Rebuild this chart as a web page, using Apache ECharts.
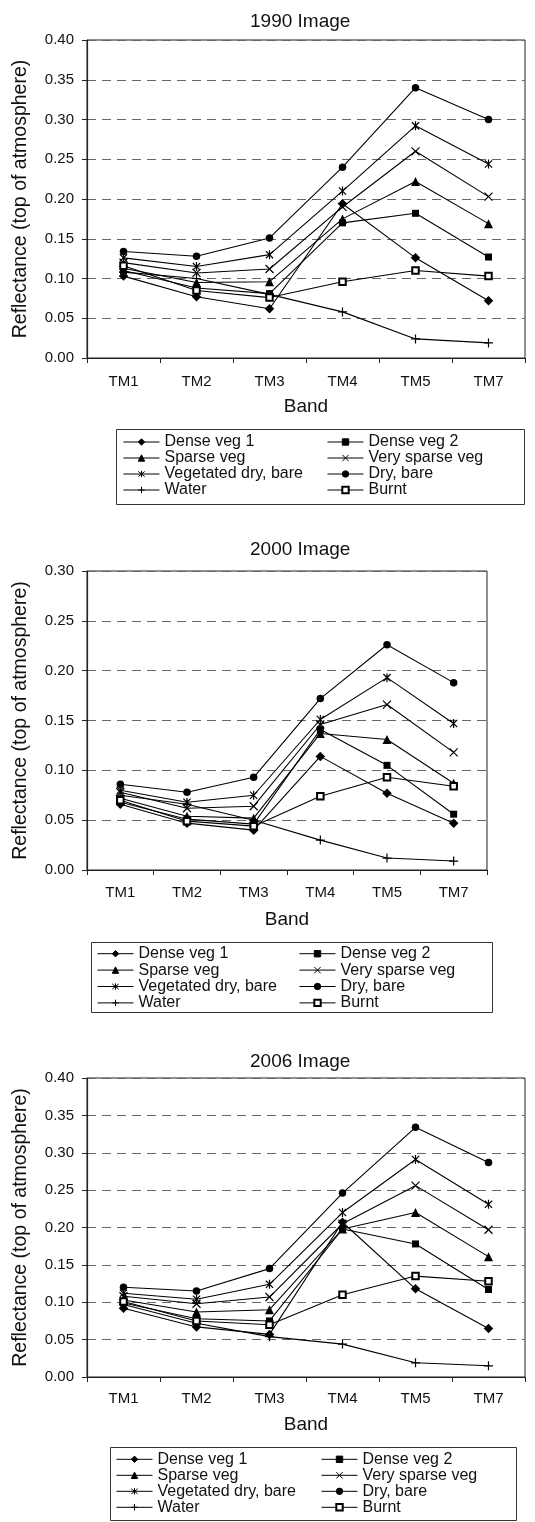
<!DOCTYPE html>
<html>
<head>
<meta charset="utf-8">
<title>Reflectance by band</title>
<script src="https://cdn.jsdelivr.net/npm/echarts@6.0.0/dist/echarts.min.js"></script>
<style>
    * { margin: 0; padding: 0; }
    html, body { width: 535px; height: 1522px; background: #fff; }
    #chart { width: 535px; height: 1522px; }
</style>
</head>
<body>
<div id="chart"></div>
<script>
var bands = ['TM1', 'TM2', 'TM3', 'TM4', 'TM5', 'TM7'];
var classNames = ['Dense veg 1', 'Dense veg 2', 'Sparse veg', 'Very sparse veg', 'Vegetated dry, bare', 'Dry, bare', 'Water', 'Burnt'];
var yTicks1990 = [0, 0.40, 0.05];
var yTicks2000 = [0, 0.30, 0.05];
var yTicks2006 = [0, 0.40, 0.05];

// 1990 image
var denseVeg1_1990   = [0.103, 0.077, 0.062, 0.194, 0.126, 0.072];
var denseVeg2_1990   = [0.110, 0.088, 0.081, 0.170, 0.182, 0.127];
var sparseVeg_1990   = [0.113, 0.095, 0.096, 0.175, 0.222, 0.169];
var vSparseVeg_1990  = [0.120, 0.107, 0.112, 0.190, 0.260, 0.203];
var vegDryBare_1990  = [0.126, 0.115, 0.130, 0.210, 0.292, 0.244];
var dryBare_1990     = [0.134, 0.128, 0.151, 0.240, 0.340, 0.300];
var water_1990       = [0.108, 0.100, 0.080, 0.058, 0.024, 0.019];
var burnt_1990       = [0.116, 0.085, 0.076, 0.096, 0.110, 0.103];

// 2000 image
var denseVeg1_2000   = [0.066, 0.047, 0.040, 0.114, 0.077, 0.047];
var denseVeg2_2000   = [0.068, 0.051, 0.046, 0.141, 0.105, 0.056];
var sparseVeg_2000   = [0.072, 0.054, 0.052, 0.137, 0.131, 0.087];
var vSparseVeg_2000  = [0.078, 0.062, 0.064, 0.146, 0.166, 0.118];
var vegDryBare_2000  = [0.080, 0.068, 0.075, 0.151, 0.193, 0.147];
var dryBare_2000     = [0.086, 0.078, 0.093, 0.172, 0.226, 0.188];
var water_2000       = [0.075, 0.066, 0.050, 0.030, 0.012, 0.009];
var burnt_2000       = [0.070, 0.049, 0.044, 0.074, 0.093, 0.084];

// 2006 image
var denseVeg1_2006   = [0.092, 0.067, 0.057, 0.207, 0.118, 0.065];
var denseVeg2_2006   = [0.099, 0.078, 0.075, 0.198, 0.178, 0.117];
var sparseVeg_2006   = [0.103, 0.087, 0.090, 0.198, 0.220, 0.161];
var vSparseVeg_2006  = [0.108, 0.098, 0.107, 0.205, 0.256, 0.197];
var vegDryBare_2006  = [0.112, 0.104, 0.124, 0.220, 0.291, 0.231];
var dryBare_2006     = [0.120, 0.115, 0.145, 0.246, 0.334, 0.287];
var water_2006       = [0.097, 0.072, 0.054, 0.044, 0.019, 0.015];
var burnt_2006       = [0.101, 0.075, 0.070, 0.110, 0.135, 0.128];

var font = "'Liberation Sans', Arial, sans-serif";

// marker for each class (same order as classNames)
var markers = [
    { symbol: 'diamond', size: 9.5, bw: 0 },
    { symbol: 'rect', size: 7, bw: 0 },
    { symbol: 'triangle', size: 9, bw: 0 },
    { symbol: 'path://M0,0L10,10M10,0L0,10', size: 8, bw: 1.2 },
    { symbol: 'path://M1,1L9,9M9,1L1,9M5,0L5,10', size: 9, bw: 1.2 },
    { symbol: 'circle', size: 7.5, bw: 0 },
    { symbol: 'path://M5,0L5,10M0,5L10,5', size: 9, bw: 1.2 },
    { symbol: 'emptyRect', size: 6.5, bw: 1 }
];

var panels = [
    { title: '1990 Image', titleTop: 12.5, ticks: yTicks1990,
      grid: { left: 87, top: 40, width: 438, height: 318 }, labelMargin: 16, nameGap: 39,
      rows: [denseVeg1_1990, denseVeg2_1990, sparseVeg_1990, vSparseVeg_1990, vegDryBare_1990, dryBare_1990, water_1990, burnt_1990],
      legendTop: 434, legLeft: [123, 327], lineH: 15.5, box: [116, 429, 408, 75] },
    { title: '2000 Image', titleTop: 540.5, ticks: yTicks2000,
      grid: { left: 87, top: 571, width: 400, height: 299 }, labelMargin: 15, nameGap: 40,
      rows: [denseVeg1_2000, denseVeg2_2000, sparseVeg_2000, vSparseVeg_2000, vegDryBare_2000, dryBare_2000, water_2000, burnt_2000],
      legendTop: 945.5, legLeft: [97, 299], lineH: 16.4, box: [91, 942, 401, 70] },
    { title: '2006 Image', titleTop: 1052.5, ticks: yTicks2006,
      grid: { left: 87, top: 1078, width: 438, height: 299 }, labelMargin: 14, nameGap: 38,
      rows: [denseVeg1_2006, denseVeg2_2006, sparseVeg_2006, vSparseVeg_2006, vegDryBare_2006, dryBare_2006, water_2006, burnt_2006],
      legendTop: 1451.3, legLeft: [116, 321], lineH: 16, box: [110, 1447, 406, 73] }
];

var titles = [], grids = [], xAxes = [], yAxes = [], series = [], legends = [], graphics = [];

panels.forEach(function (p, i) {
    titles.push({
        text: p.title, left: 250, top: p.titleTop, padding: 0,
        textStyle: { fontFamily: font, fontSize: 19, fontWeight: 'normal', color: '#111' }
    });
    grids.push({
        left: p.grid.left, top: p.grid.top, width: p.grid.width, height: p.grid.height,
        show: true, borderColor: '#222', borderWidth: 1, backgroundColor: 'transparent',
        outerBoundsMode: 'none'
    });
    xAxes.push({
        type: 'category', gridIndex: i, data: bands, boundaryGap: true,
        name: 'Band', nameLocation: 'middle', nameGap: p.nameGap,
        nameTextStyle: { fontFamily: font, fontSize: 19, color: '#111' },
        axisLine: { lineStyle: { color: '#222', width: 1.2 } },
        axisTick: { show: true, length: 5, alignWithLabel: false, lineStyle: { color: '#222' } },
        axisLabel: { fontFamily: font, fontSize: 15, color: '#111', margin: p.labelMargin, interval: 0 },
        splitLine: { show: false }
    });
    yAxes.push({
        type: 'value', gridIndex: i, min: p.ticks[0], max: p.ticks[1], interval: p.ticks[2],
        name: 'Reflectance (top of atmosphere)', nameLocation: 'middle', nameGap: 56,
        nameTextStyle: { fontFamily: font, fontSize: 19.5, color: '#111' },
        axisLine: { show: true, lineStyle: { color: '#222', width: 1.2 } },
        axisTick: { show: true, length: 5, lineStyle: { color: '#222' } },
        axisLabel: {
            fontFamily: font, fontSize: 15, color: '#111', margin: 13,
            formatter: function (v) { return v.toFixed(2); }
        },
        splitLine: { show: true, lineStyle: { color: '#666', type: [9, 6], width: 1 } }
    });
    p.rows.forEach(function (vals, k) {
        var m = markers[k];
        series.push({
            type: 'line', name: classNames[k], xAxisIndex: i, yAxisIndex: i,
            data: vals, symbol: m.symbol, symbolSize: m.size, symbolKeepAspect: true,
            showAllSymbol: true,
            lineStyle: { color: '#000', width: 1.1 },
            itemStyle: { color: '#000', borderColor: '#000', borderWidth: m.bw },
            emphasis: { disabled: true },
            z: 3
        });
    });
    var cols = [
        [classNames[0], classNames[2], classNames[4], classNames[6]],
        [classNames[1], classNames[3], classNames[5], classNames[7]]
    ];
    cols.forEach(function (names, c) {
        legends.push({
            data: names, orient: 'vertical', left: p.legLeft[c], top: p.legendTop,
            padding: 0, itemGap: 0, itemWidth: 36, itemHeight: 8, selectedMode: false,
            textStyle: { fontFamily: font, fontSize: 16, lineHeight: p.lineH, color: '#111' },
            itemStyle: { borderColor: '#000', borderWidth: 1 },
            lineStyle: { color: '#000', width: 1 }
        });
    });
    graphics.push({
        type: 'rect', silent: true,
        shape: { x: p.box[0] + 0.5, y: p.box[1] + 0.5, width: p.box[2], height: p.box[3] },
        style: { fill: 'none', stroke: '#333', lineWidth: 1 }
    });
});

var myChart = echarts.init(document.getElementById('chart'));
myChart.setOption({
    animation: false,
    backgroundColor: '#fff',
    title: titles,
    grid: grids,
    xAxis: xAxes,
    yAxis: yAxes,
    legend: legends,
    graphic: graphics,
    series: series
});
</script>
</body>
</html>
